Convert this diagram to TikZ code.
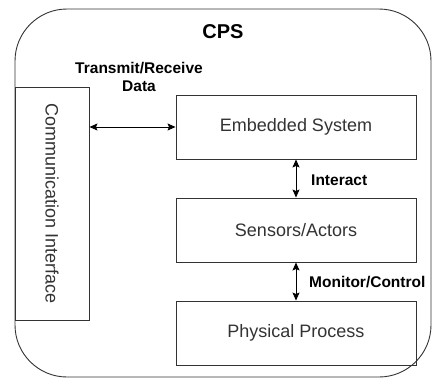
\documentclass[tikz,border=0pt]{standalone}
\usepackage{fontspec}
\setmainfont{Liberation Sans}
\usetikzlibrary{arrows.meta}
\definecolor{ink}{HTML}{333333}
\begin{document}
\begin{tikzpicture}[x=1pt,y=-1pt,
  block/.style={draw=ink,line width=0.9pt,rectangle,inner sep=0pt,
    font=\fontsize{18}{20}\selectfont,text=ink},
  lab/.style={font=\bfseries\fontsize{15.5}{18}\selectfont,inner sep=0pt,align=center},
  link/.style={draw=black,line width=0.9pt,{Stealth[length=8pt,width=7pt,inset=1.5pt]}-{Stealth[length=8pt,width=7pt,inset=1.5pt]}}]
\useasboundingbox (0,0) rectangle (432,378);
% outer CPS frame
\draw[ink,line width=0.9pt,rounded corners=52pt] (15,9) rectangle (431,377);
\node[font=\bfseries\fontsize{20}{22}\selectfont,inner sep=0pt] (cps) at (223,32) {CPS};
% boxes
\node[block,minimum width=74pt,minimum height=233pt] (comm) at (52,203.5) {};
\node[rotate=-90,font=\fontsize{18}{20}\selectfont,text=ink,inner sep=0pt] (commt) at (comm.center) {Communication Interface};
\node[block,minimum width=240pt,minimum height=64pt] (emb) at (296,127) {Embedded System};
\node[block,minimum width=240pt,minimum height=64pt] (sens) at (296,230) {Sensors/Actors};
\node[block,minimum width=240pt,minimum height=64pt] (phys) at (296,333) {Physical Process};
% connectors
\coordinate (ca) at (comm.east |- emb.west);
\draw[link] (ca) -- (emb.west);
\draw[link] (emb.south -| 296,0) -- (sens.north);
\draw[link] (sens.south) -- (phys.north);
% labels
\node[lab] (tr) at (139,77) {Transmit/Receive\\Data};
\node[lab,anchor=west] (ia) at (311,180) {Interact};
\node[lab,anchor=west] (mc) at (309,282) {Monitor/Control};
\end{tikzpicture}
\end{document}
